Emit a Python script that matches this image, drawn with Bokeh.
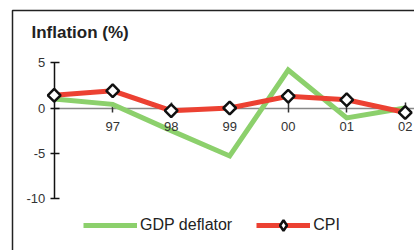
import math
from bokeh.plotting import figure
from bokeh.models import (LinearAxis, FixedTicker, Range1d, Legend, LegendItem,
                          Label, ColumnDataSource, BoxAnnotation)
from bokeh.embed import file_html
from bokeh.resources import INLINE

# ---- data ----
years = ["96", "97", "98", "99", "00", "01", "02"]
gdp_deflator = [1.0, 0.4, -2.5, -5.3, 4.2, -1.1, 0.0]
cpi = [1.4, 1.9, -0.3, 0.0, 1.3, 0.9, -0.5]
y_ticks = [-10, -5, 0, 5]
title_text = "Inflation (%)"

FONT = "Liberation Sans"
GREEN = "#8cd06c"
RED = "#ec4132"

# pixel mapping of the reference (x: 53.7 + 58.5*i, y: 107.5 - 9.05*v)
X0, XS = 53.7, 58.5
Y0, YS = 107.5, 9.05
W, H = 414, 250

idx = list(range(len(years)))
src = ColumnDataSource(dict(x=idx, gdp=gdp_deflator, cpi=cpi))

p = figure(width=W, height=H, output_backend="svg", toolbar_location=None,
           x_range=Range1d(-X0 / XS, (W - X0) / XS),
           y_range=Range1d((Y0 - H) / YS, Y0 / YS),
           x_axis_location=None, y_axis_location=None,
           min_border=0)
p.grid.visible = False
p.outline_line_color = None
p.background_fill_color = "white"
p.border_fill_color = "white"

# chart box (left/top edges visible, right/bottom run off the window)
p.add_layout(BoxAnnotation(left=(12 - X0) / XS, top=(Y0 - 10) / YS,
                           right=(W + 10 - X0) / XS, bottom=(Y0 - H - 10) / YS,
                           fill_alpha=0, fill_color=None,
                           line_color="#222222", line_width=1.5, line_alpha=1))

# axes
yax = LinearAxis(fixed_location=0, ticker=FixedTicker(ticks=y_ticks), bounds=(-10, 5))
yax.level = "underlay"
yax.major_label_overrides = {t: str(t) for t in y_ticks}
yax.axis_line_color = "#111111"
yax.axis_line_width = 1.5
yax.major_tick_line_color = "#111111"
yax.major_tick_line_width = 1.5
yax.major_tick_in = 5
yax.major_tick_out = 4
yax.minor_tick_line_color = None
yax.major_label_standoff = 5
yax.major_label_text_font = FONT
yax.major_label_text_font_size = "13px"
yax.major_label_text_color = "#333333"
p.add_layout(yax, "left")

# x axis line + ticks (below the series)
xax = LinearAxis(fixed_location=0, ticker=FixedTicker(ticks=idx[1:]), bounds=(0, 6.2))
xax.level = "underlay"
xax.major_label_text_alpha = 0
xax.axis_line_color = "#888888"
xax.axis_line_width = 1.5
xax.major_tick_line_color = "#333333"
xax.major_tick_line_width = 1.5
xax.major_tick_in = 6
xax.major_tick_out = 4
xax.minor_tick_line_color = None
xax.major_label_overrides = {i: years[i] for i in idx}
xax.major_label_standoff = 10
xax.major_label_text_font = FONT
xax.major_label_text_font_size = "13px"
p.add_layout(xax, "below")

# x axis labels (above the series)
xlab = LinearAxis(fixed_location=0, ticker=FixedTicker(ticks=idx[1:]), bounds=(0, 6.2))
xlab.axis_line_color = None
xlab.major_tick_line_color = None
xlab.minor_tick_line_color = None
xlab.major_tick_in = 6
xlab.major_tick_out = 4
xlab.major_label_overrides = {i: years[i] for i in idx}
xlab.major_label_standoff = 10
xlab.major_label_text_font = FONT
xlab.major_label_text_font_size = "13px"
xlab.major_label_text_color = "#333333"
p.add_layout(xlab, "below")

# series
g = p.line("x", "gdp", source=src, line_color=GREEN, line_width=5, line_join="miter")
r = p.line("x", "cpi", source=src, line_color=RED, line_width=5, line_join="miter")
m = p.scatter("x", "cpi", source=src, marker="square", angle=math.pi / 4, size=9,
              fill_color="white", line_color="#111111", line_width=2.5)
# legend-only key marker (not plotted: NaN position)
lg_m = p.scatter(x=[float("nan")], y=[float("nan")], marker="diamond",
                 fill_color="white", line_color="#111111", line_width=2.5)

legend = Legend(items=[LegendItem(label="GDP deflator", renderers=[g]),
                       LegendItem(label="CPI", renderers=[r, lg_m])],
                orientation="horizontal", location=(83, 12),
                glyph_width=54, glyph_height=26, label_standoff=3, spacing=24,
                padding=0, margin=0, border_line_color=None, background_fill_alpha=0,
                label_text_font=FONT, label_text_font_size="16px",
                label_text_color="#222222")
p.add_layout(legend, "center")

p.add_layout(Label(x=31, y=H - 31.5, x_units="screen", y_units="screen", text=title_text,
                   text_font=FONT, text_font_size="17px", text_font_style="bold",
                   text_color="#222222", text_baseline="alphabetic"))

open("out.html", "w").write(file_html(p, INLINE))
